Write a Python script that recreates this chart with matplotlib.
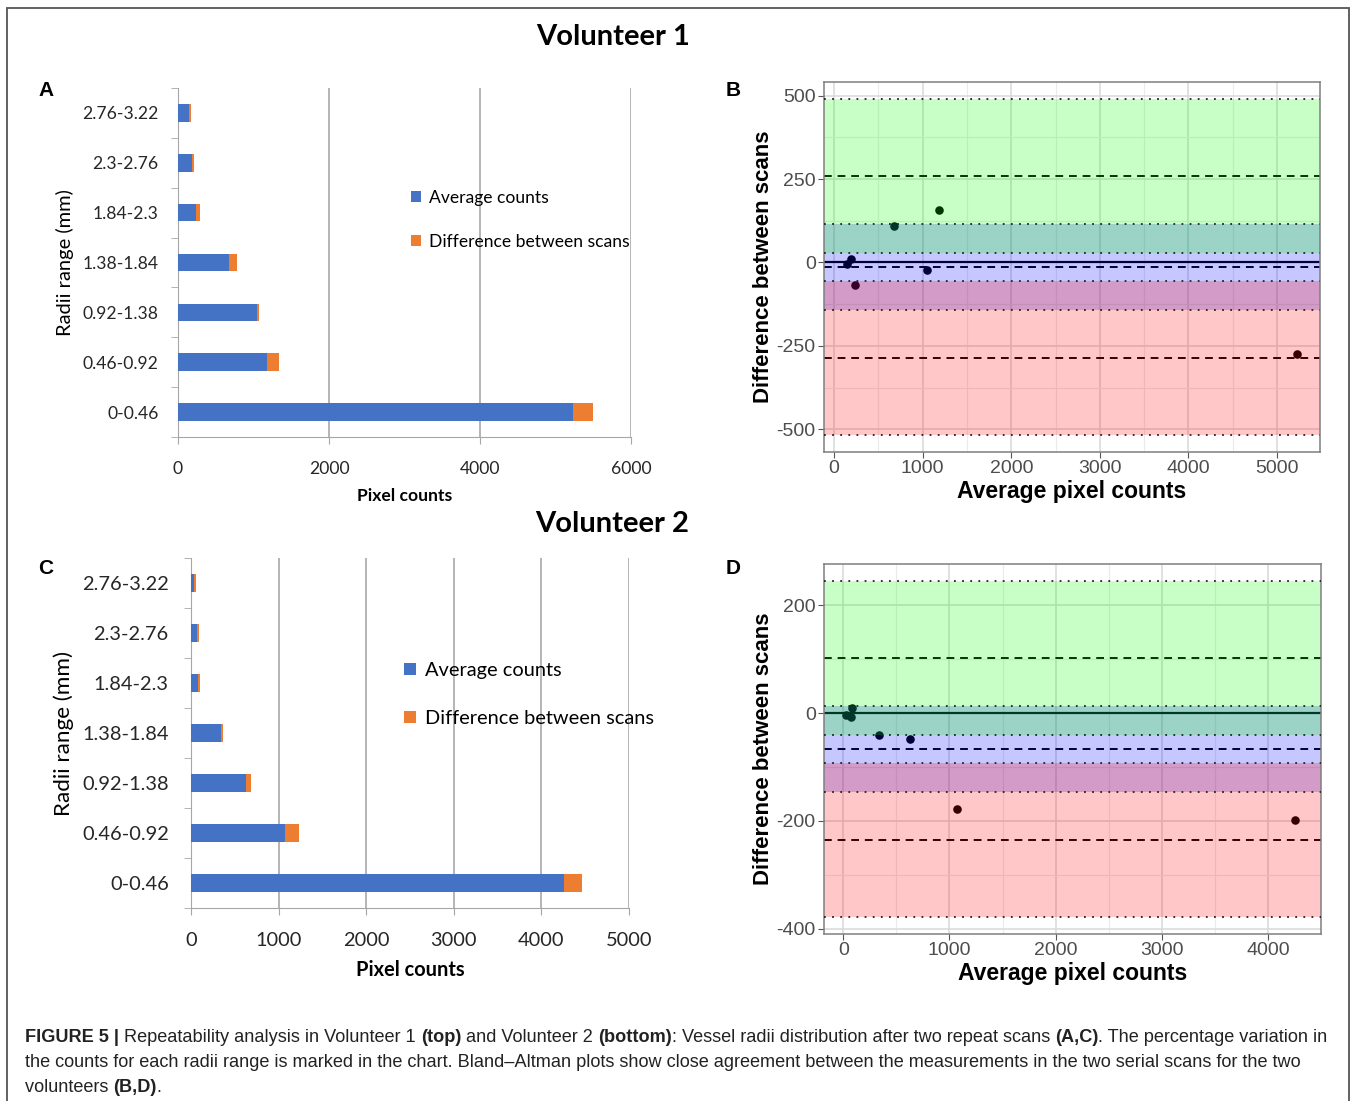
import numpy as np
import matplotlib
matplotlib.use("Agg")
import matplotlib.pyplot as plt
from matplotlib.patches import Rectangle

W, H = 1357, 1101
plt.rcParams["axes.unicode_minus"] = False

radii = ["0-0.46", "0.46-0.92", "0.92-1.38", "1.38-1.84", "1.84-2.3", "2.3-2.76", "2.76-3.22"]

# volunteer 1
v1_avg = [5230, 1180, 1048, 676, 238, 192, 140]
v1_bar_diff = [270, 160, 30, 105, 57, 25, 30]
v1_diff = [-275, 157, -22, 109, -68, 10, -6]

# volunteer 2
v2_avg = [4257, 1068, 629, 339, 78, 70, 30]
v2_bar_diff = [210, 160, 53, 27, 26, 27, 30]
v2_diff = [-199, -178, -49, -41, 10, -7, -3]

BLUE = "#4472C4"
ORANGE = "#ED7D31"
XL_FONT = "Lato"
GG_FONT = "Liberation Sans"

fig = plt.figure(figsize=(W / 100, H / 100), dpi=100)


def add_ax(l, t, r, b):
    return fig.add_axes([l / W, 1 - b / H, (r - l) / W, (b - t) / H])


def bar_panel(ax, avg, bdiff, xmax, step, fs, yl_fs, ypad, leg_xy, leg_sp):
    y = np.arange(len(radii))
    ax.barh(y, avg, height=0.35, color=BLUE, label="Average counts", zorder=3)
    ax.barh(y, bdiff, left=avg, height=0.35, color=ORANGE,
            label="Difference between scans", zorder=3)
    ax.set_ylim(-0.5, len(radii) - 0.5)
    ax.set_xlim(0, xmax)
    ax.set_xticks(np.arange(0, xmax + 1, step))
    ax.set_yticks(y)
    ax.set_yticklabels(radii)
    ax.set_yticks(np.arange(-0.5, len(radii), 1.0), minor=True)
    ax.tick_params(axis="y", which="major", length=0, pad=ypad, labelsize=fs)
    ax.tick_params(axis="y", which="minor", length=5, color="#A6A6A6", direction="out")
    ax.tick_params(axis="x", length=5, color="#A6A6A6", direction="out", labelsize=fs, pad=12)
    for lab in ax.get_xticklabels() + ax.get_yticklabels():
        lab.set_family(XL_FONT)
        lab.set_color("#262626")
    ax.grid(axis="x", color="#A0A0A0", lw=1.1)
    ax.set_axisbelow(True)
    for s in ["top", "right"]:
        ax.spines[s].set_visible(False)
    for s in ["left", "bottom"]:
        ax.spines[s].set_color("#A6A6A6")
    ax.set_xlabel("Pixel counts", family=XL_FONT, fontweight="bold", fontsize=fs, labelpad=8)
    ax.set_ylabel("Radii range (mm)", family=XL_FONT, fontsize=yl_fs, labelpad=6)
    leg = ax.legend(loc="upper left", bbox_to_anchor=leg_xy, frameon=False,
                    handlelength=0.6, handleheight=0.6, handletextpad=0.45,
                    labelspacing=leg_sp, borderaxespad=0, borderpad=0,
                    prop={"family": XL_FONT, "size": fs})
    return leg


def ba_panel(ax, avg, diff, xticks, yticks, xminor, yminor):
    d = np.asarray(diff, float)
    a = np.asarray(avg, float)
    n = len(d)
    bias = d.mean()
    sd = d.std(ddof=1)
    t = 2.4469  # t(0.975, df=6)
    upper = bias + 1.96 * sd
    lower = bias - 1.96 * sd
    bias_ci = t * sd / np.sqrt(n)
    loa_ci = t * sd * np.sqrt(1 / n + 1.96 ** 2 / (2 * (n - 1)))

    lo = lower - loa_ci
    hi = upper + loa_ci
    pad = (hi - lo) * 0.05
    ax.set_ylim(lo - pad, hi + pad)
    xpad = (a.max() - a.min()) * 0.05
    ax.set_xlim(a.min() - xpad, a.max() + xpad)

    ax.set_xticks(xticks)
    ax.set_yticks(yticks)
    ax.set_xticks(xminor, minor=True)
    ax.set_yticks(yminor, minor=True)
    ax.grid(which="major", color="#D9D9D9", lw=1.1, zorder=0)
    ax.grid(which="minor", color="#EBEBEB", lw=0.8, zorder=0)
    ax.set_axisbelow(True)
    ax.tick_params(which="minor", length=0)
    ax.tick_params(which="major", length=4, color="#555555", labelsize=14,
                   labelcolor="#4D4D4D", pad=2)
    for lab in ax.get_xticklabels() + ax.get_yticklabels():
        lab.set_family(GG_FONT)
    for s in ax.spines.values():
        s.set_color("#7F7F7F")
        s.set_linewidth(1.1)

    # lines and points under the translucent bands
    ax.axhline(0, color="black", lw=1.6, zorder=1.5)
    for v in [bias, upper, lower]:
        ax.axhline(v, color="black", lw=1.4, ls=(0, (4, 3)), zorder=1.5)
    ax.scatter(a, d, s=38, color="black", zorder=1.6, linewidths=0)

    ax.axhspan(bias - bias_ci, bias + bias_ci, color="#0000FF", alpha=0.22, lw=0, zorder=2)
    ax.axhspan(upper - loa_ci, upper + loa_ci, color="#00FF00", alpha=0.22, lw=0, zorder=2.1)
    ax.axhspan(lower - loa_ci, lower + loa_ci, color="#FF0000", alpha=0.22, lw=0, zorder=2.1)
    for v in [bias - bias_ci, bias + bias_ci, upper - loa_ci, upper + loa_ci,
              lower - loa_ci, lower + loa_ci]:
        ax.axhline(v, color="#222222", lw=1.3, ls=(0, (1, 3.5)), zorder=3)

    ax.set_xlabel("Average pixel counts", family=GG_FONT, fontweight="bold",
                  fontsize=16.5, labelpad=2)
    ax.set_ylabel("Difference between scans", family=GG_FONT, fontweight="bold",
                  fontsize=16, labelpad=2)


# panel A
axA = add_ax(178, 88, 631, 437)
bar_panel(axA, v1_avg, v1_bar_diff, 6000, 2000, 12.6, 14.5, 14, (0.514, 0.708), 1.6)

# panel B
axB = add_ax(824, 82, 1320, 452)
ba_panel(axB, v1_avg, v1_diff, np.arange(0, 5001, 1000), np.arange(-500, 501, 250),
         np.arange(500, 5500, 1000), np.arange(-375, 400, 250))

# panel C
axC = add_ax(191, 558, 629, 908)
bar_panel(axC, v2_avg, v2_bar_diff, 5000, 1000, 14.4, 16.2, 16, (0.486, 0.703), 1.55)

# panel D
axD = add_ax(824, 564, 1321, 934)
ba_panel(axD, v2_avg, v2_diff, np.arange(0, 4001, 1000), np.arange(-400, 201, 200),
         np.arange(500, 4600, 1000), np.arange(-300, 250, 200))

# titles and panel letters
fig.text(613 / W, 1 - 37 / H, "Volunteer 1", family=XL_FONT, fontweight="bold",
         fontsize=21, ha="center", va="center")
fig.text(612 / W, 1 - 524 / H, "Volunteer 2", family=XL_FONT, fontweight="bold",
         fontsize=21, ha="center", va="center")
for letter, x, y in [("A", 46, 90), ("B", 733, 90), ("C", 46, 568), ("D", 733, 568)]:
    fig.text(x / W, 1 - y / H, letter, family=GG_FONT, fontweight="bold",
             fontsize=15, ha="center", va="center")

# outer frame
fig.add_artist(Rectangle((7 / W, -0.01), (1349 - 7) / W, 1 - 8 / H + 0.01,
                         transform=fig.transFigure, fill=False,
                         edgecolor="#555555", lw=1.3, clip_on=False))

# caption with bold runs
renderer = fig.canvas.get_renderer()


def text_width(s, size, bold):
    tmp = fig.text(0, 0, s + "|", family=GG_FONT, fontsize=size,
                   fontweight="bold" if bold else "normal")
    bar = fig.text(0, 0, "|", family=GG_FONT, fontsize=size,
                   fontweight="bold" if bold else "normal")
    w = tmp.get_window_extent(renderer).width - bar.get_window_extent(renderer).width
    tmp.remove()
    bar.remove()
    return w


cap_lines = [
    [("FIGURE 5 |", True), (" Repeatability analysis in Volunteer 1 ", False), ("(top)", True),
     (" and Volunteer 2 ", False), ("(bottom)", True),
     (": Vessel radii distribution after two repeat scans ", False), ("(A,C)", True),
     (". The percentage variation in", False)],
    [("the counts for each radii range is marked in the chart. Bland\u2013Altman plots show "
      "close agreement between the measurements in the two serial scans for the two", False)],
    [("volunteers ", False), ("(B,D)", True), (".", False)],
]

base = 12
w2 = sum(text_width(s, base, b) for s, b in cap_lines[1])
cap_size = base * 1280 / w2

for line, yb in zip(cap_lines, [1042, 1067, 1092]):
    x = 25
    for s, b in line:
        fig.text(x / W, 1 - yb / H, s, family=GG_FONT, fontsize=cap_size,
                 fontweight="bold" if b else "normal", color="#222222", va="baseline")
        x += text_width(s, cap_size, b)

fig.savefig("out.png", dpi=100)
